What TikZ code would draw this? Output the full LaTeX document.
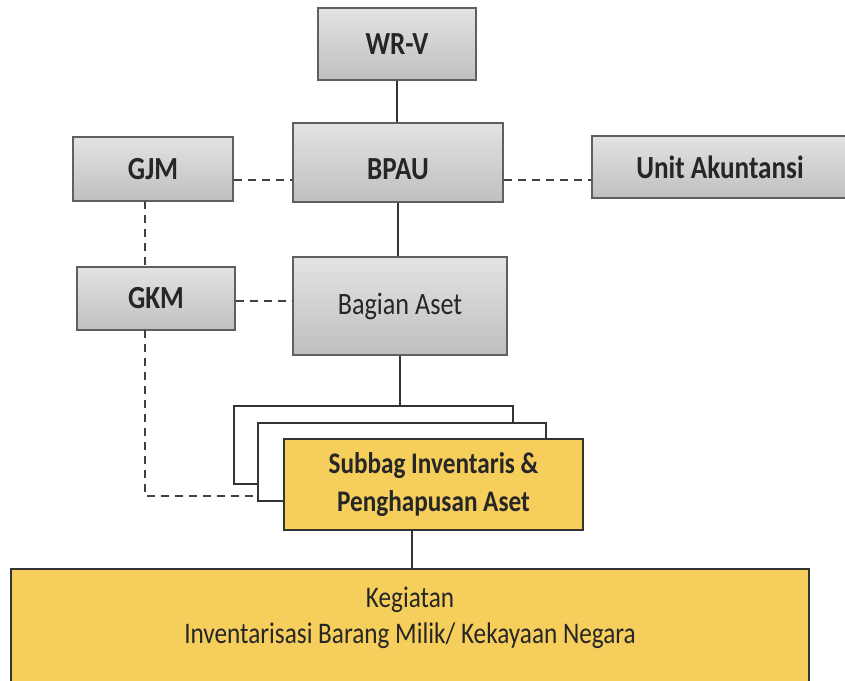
\documentclass[tikz,border=0pt]{standalone}
\usepackage{fontspec}
\setmainfont{Carlito}
\definecolor{boxyellow}{RGB}{246,206,92}
\definecolor{edgegray}{RGB}{95,95,95}
\newcommand{\tallt}[1]{\scalebox{0.97}[1.15]{#1}}
\begin{document}
\begin{tikzpicture}[x=1pt,y=-1pt,
  graybox/.style={draw=edgegray,line width=1.6pt,top color=gray!22,middle color=gray!6,bottom color=gray!50,
    inner sep=0pt,font=\fontsize{28}{32}\selectfont\bfseries,text=black!85},
  ylbox/.style={draw=black!80,line width=1.6pt,fill=boxyellow,inner sep=0pt,align=center,text=black!85},
  plain/.style={draw=black!80,line width=1.5pt,fill=white},
  solidline/.style={draw=black!80,line width=1.6pt},
  dashline/.style={draw=black!75,line width=1.6pt,dash pattern=on 8pt off 6pt}]
\useasboundingbox (0,0) rectangle (845,680);
% gray boxes
\node[graybox,minimum width=158pt,minimum height=72pt] (wrv) at (397,44) {\tallt{WR-V}};
\node[graybox,minimum width=210pt,minimum height=79pt,text height=33pt,text depth=0pt] (bpau) at (398,162.5) {\tallt{BPAU}};
\node[graybox,minimum width=160pt,minimum height=64pt] (gjm) at (153,169) {\tallt{GJM}};
\node[graybox,minimum width=256pt,minimum height=62pt] (unit) at (720,167) {\tallt{Unit Akuntansi}};
\node[graybox,minimum width=158pt,minimum height=63pt] (gkm) at (156,298.5) {\tallt{GKM}};
\node[graybox,minimum width=214pt,minimum height=98pt,font=\fontsize{27}{31}\selectfont] (bag) at (400,306) {\tallt{Bagian Aset}};
% stacked boxes
\node[plain,minimum width=279pt,minimum height=78pt] (s1) at (373.5,445) {};
\node[plain,minimum width=288pt,minimum height=78pt] (s2) at (402,462) {};
\node[ylbox,minimum width=299pt,minimum height=91pt,font=\fontsize{26}{38}\selectfont\bfseries] (sub) at (433.5,484.5) {\tallt{Subbag Inventaris \&}\\\tallt{Penghapusan Aset}};
% bottom box
\node[ylbox,minimum width=798pt,minimum height=130pt,anchor=north west] (keg) at (10,568) {};
\node[font=\fontsize{26}{36}\selectfont,align=center,text=black!85] (kegtxt) at (410,618) {\tallt{Kegiatan}\\\tallt{Inventarisasi Barang Milik/ Kekayaan Negara}};
% connectors
\draw[solidline] (wrv.south) -- (wrv.south |- bpau.north);
\draw[solidline] (bpau.south) -- (bpau.south |- bag.north);
\draw[solidline] (bag.south) -- (bag.south |- s1.north);
\draw[solidline] (412,530) coordinate (subb) -- (412,568) coordinate (kegt);
\draw[dashline] (gjm.east |- 0,180) -- (bpau.west |- 0,180);
\draw[dashline] (bpau.east |- 0,180) -- (unit.west |- 0,180);
\draw[dashline] (gkm.east |- 0,301) -- (bag.west |- 0,301);
\draw[dashline] (145,201) coordinate (gjmb) -- (145,267) coordinate (gkmt);
\draw[dashline] (145,330) coordinate (gkmb) -- (145,496) -- (s2.west |- 0,496);
\end{tikzpicture}
\end{document}
